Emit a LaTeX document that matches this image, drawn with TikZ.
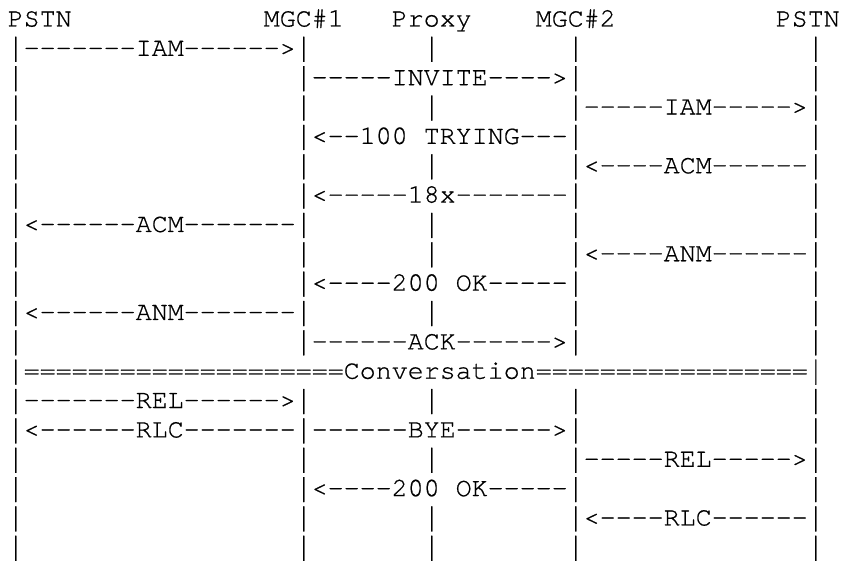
\documentclass[tikz,border=0pt]{standalone}
\usepackage{fontspec}
\setmonofont{texgyrecursor-regular.otf}[FakeBold=0.6]
\usepackage{graphicx}
\usepackage{tikz}
\newlength\cw
\setlength\cw{16pt}
\newcommand\gap[1]{\hspace*{#1\cw}}
% a taller | so the lifelines nearly join
\newcommand\pal{\raisebox{-6pt}{\resizebox*{\width}{25pt}{\raisebox{\depth}{|}}}}

\begin{document}
\begin{tikzpicture}[x=1pt,y=1pt,
  fila/.style={anchor=base west,inner sep=0pt,outer sep=0pt,
    font=\ttfamily\fontsize{26.67}{30}\selectfont}]
\useasboundingbox (0,0) rectangle (841,-561);
\node[fila] (f1) at (7.7,-26.5) {PSTN\gap{12}MGC\#1\gap{3}Proxy\gap{4}MGC\#2\gap{10}PSTN};
\node[fila] (f2) at (7.7,-55.85) {\pal-------IAM------>\pal\gap{7}\pal\gap{8}\pal\gap{14}\pal};
\node[fila] (f3) at (7.7,-85.2) {\pal\gap{17}\pal-----INVITE---->\pal\gap{14}\pal};
\node[fila] (f4) at (7.7,-114.55) {\pal\gap{17}\pal\gap{7}\pal\gap{8}\pal-----IAM----->\pal};
\node[fila] (f5) at (7.7,-143.9) {\pal\gap{17}\pal<--100\gap{1}TRYING---\pal\gap{14}\pal};
\node[fila] (f6) at (7.7,-173.25) {\pal\gap{17}\pal\gap{7}\pal\gap{8}\pal<----ACM------\pal};
\node[fila] (f7) at (7.7,-202.6) {\pal\gap{17}\pal<-----18x-------\pal\gap{14}\pal};
\node[fila] (f8) at (7.7,-231.95) {\pal<------ACM-------\pal\gap{7}\pal\gap{8}\pal\gap{14}\pal};
\node[fila] (f9) at (7.7,-261.3) {\pal\gap{17}\pal\gap{7}\pal\gap{8}\pal<----ANM------\pal};
\node[fila] (f10) at (7.7,-290.65) {\pal\gap{17}\pal<----200\gap{1}OK-----\pal\gap{14}\pal};
\node[fila] (f11) at (7.7,-320) {\pal<------ANM-------\pal\gap{7}\pal\gap{8}\pal\gap{14}\pal};
\node[fila] (f12) at (7.7,-349.35) {\pal\gap{17}\pal------ACK------>\pal\gap{14}\pal};
\node[fila] (f13) at (7.7,-378.7) {\pal====================Conversation=================\pal};
\node[fila] (f14) at (7.7,-408.05) {\pal-------REL------>\pal\gap{7}\pal\gap{8}\pal\gap{14}\pal};
\node[fila] (f15) at (7.7,-437.4) {\pal<------RLC-------\pal------BYE------>\pal\gap{14}\pal};
\node[fila] (f16) at (7.7,-466.75) {\pal\gap{17}\pal\gap{7}\pal\gap{8}\pal-----REL----->\pal};
\node[fila] (f17) at (7.7,-496.1) {\pal\gap{17}\pal<----200\gap{1}OK-----\pal\gap{14}\pal};
\node[fila] (f18) at (7.7,-525.45) {\pal\gap{17}\pal\gap{7}\pal\gap{8}\pal<----RLC------\pal};
\node[fila] (f19) at (7.7,-554.8) {\pal\gap{17}\pal\gap{7}\pal\gap{8}\pal\gap{14}\pal};
\end{tikzpicture}
\end{document}
